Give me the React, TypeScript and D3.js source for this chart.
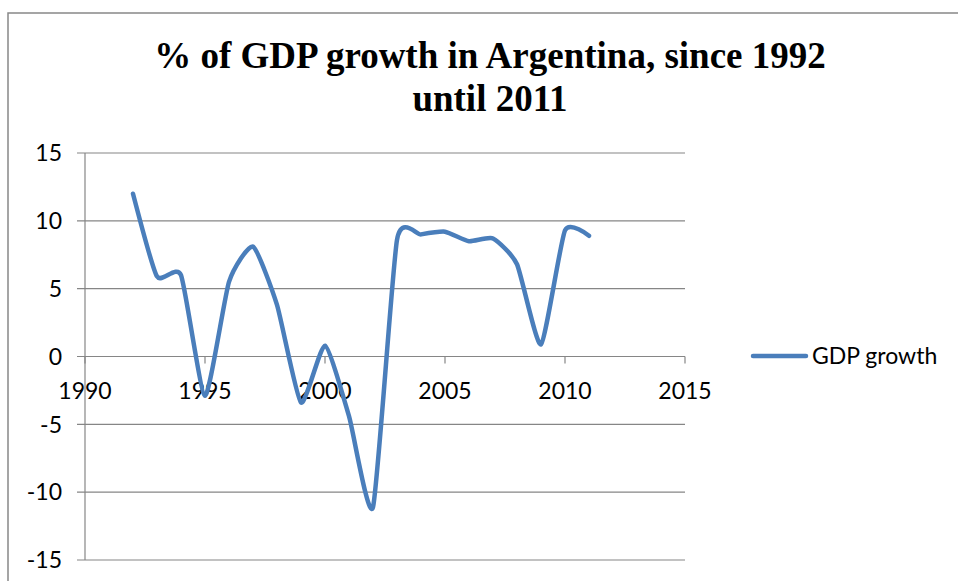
import React from "react";
import * as d3 from "d3";

const years: number[] = [1992, 1993, 1994, 1995, 1996, 1997, 1998, 1999, 2000, 2001, 2002, 2003, 2004, 2005, 2006, 2007, 2008, 2009, 2010, 2011];
const gdpGrowth: number[] = [12.0, 5.9, 6.0, -2.9, 5.5, 8.1, 3.8, -3.4, 0.8, -4.4, -11.1, 8.6, 9.0, 9.2, 8.5, 8.7, 6.8, 0.9, 9.3, 8.9];
const xTicks: number[] = [1990, 1995, 2000, 2005, 2010, 2015];
const yTicks: number[] = [-15, -10, -5, 0, 5, 10, 15];
const titleLines: string[] = ["% of GDP growth in Argentina, since 1992", "until 2011"];
const seriesName = "GDP growth";

export default function App() {
  const W = 958;
  const H = 581;
  const left = 85;
  const right = 685;
  const top = 153;
  const bottom = 560;
  const x = d3.scaleLinear().domain([1990, 2015]).range([left, right]);
  const y = d3.scaleLinear().domain([-15, 15]).range([bottom, top]);
  const line = d3
    .line<number>()
    .x((_, i) => x(years[i]))
    .y((d) => y(d))
    .curve(d3.curveCardinal.tension(0.45));
  const grid = "#868686";
  const labelFont = "Lato, 'Open Sans', sans-serif";
  return (
    <svg width={W} height={H} style={{ position: "absolute", left: 0, top: 0, background: "#fff" }}>
      <rect x={8} y={13} width={W + 10} height={H + 10} fill="#fff" stroke="#888" strokeWidth={1.5} />
      {titleLines.map((t, i) => (
        <text
          key={i}
          x={490}
          y={68 + i * 43}
          textAnchor="middle"
          fontFamily="'Liberation Serif', 'Times New Roman', serif"
          fontWeight="bold"
          fontSize={37}
          fill="#000"
        >
          {t}
        </text>
      ))}
      {yTicks.map((v) => (
        <g key={v}>
          <line x1={left - 8} x2={right} y1={y(v)} y2={y(v)} stroke={grid} strokeWidth={1.2} />
          <text x={62} y={y(v)} dy="0.36em" textAnchor="end" fontFamily={labelFont} fontSize={23} fill="#000">
            {v}
          </text>
        </g>
      ))}
      <line x1={left} x2={left} y1={top} y2={bottom} stroke={grid} strokeWidth={1.2} />
      {xTicks.map((v) => (
        <g key={v}>
          <line x1={x(v)} x2={x(v)} y1={y(0)} y2={y(0) + 7} stroke={grid} strokeWidth={1.2} />
          <text x={x(v)} y={399} textAnchor="middle" fontFamily={labelFont} fontSize={23} fill="#000">
            {v}
          </text>
        </g>
      ))}
      <path d={line(gdpGrowth) || ""} fill="none" stroke="#4a7ebb" strokeWidth={4.5} strokeLinecap="round" strokeLinejoin="round" />
      <line x1={753} x2={806} y1={356} y2={356} stroke="#4a7ebb" strokeWidth={4.5} strokeLinecap="round" />
      <text x={812} y={364} fontFamily={labelFont} fontSize={23} fill="#000">
        {seriesName}
      </text>
    </svg>
  );
}
